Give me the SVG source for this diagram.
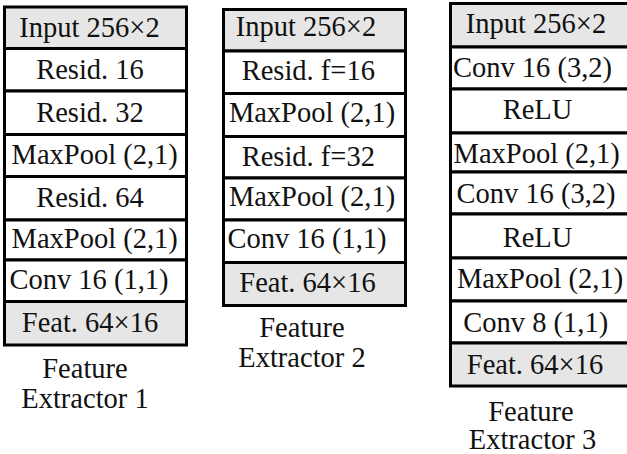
<svg xmlns="http://www.w3.org/2000/svg" width="627" height="454" viewBox="0 0 627 454">
<style>
.c{fill:#fff;stroke:#000;stroke-width:3}
.g{fill:#e6e6e6;stroke:#000;stroke-width:3}
text{font-size:28.5px;fill:#111;text-anchor:middle}
</style>
<rect width="627" height="454" fill="#fff"/>
<g font-family="Liberation Serif, DejaVu Serif, serif">
<g id="extractor1">
<g id="e1-input"><rect class="g" x="4.5" y="7" width="182" height="41.5"/><text x="89.5" y="37">Input 256×2</text></g>
<g id="e1-resid16"><rect class="c" x="4.5" y="48.5" width="182" height="42.5"/><text x="90" y="79">Resid. 16</text></g>
<g id="e1-resid32"><rect class="c" x="4.5" y="91" width="182" height="43.5"/><text x="90" y="121.7">Resid. 32</text></g>
<g id="e1-maxpool1"><rect class="c" x="4.5" y="134.5" width="182" height="42"/><text x="94.7" y="163.5">MaxPool (2,1)</text></g>
<g id="e1-resid64"><rect class="c" x="4.5" y="176.5" width="182" height="43.5"/><text x="90" y="207">Resid. 64</text></g>
<g id="e1-maxpool2"><rect class="c" x="4.5" y="220" width="182" height="40"/><text x="94.7" y="248">MaxPool (2,1)</text></g>
<g id="e1-conv"><rect class="c" x="4.5" y="260" width="182" height="41.5"/><text x="89" y="289">Conv 16 (1,1)</text></g>
<g id="e1-feat"><rect class="g" x="4.5" y="301.5" width="182" height="43.5"/><text x="90" y="332">Feat. 64×16</text></g>
<g id="e1-label"><text x="85" y="378.3">Feature</text><text x="85" y="408.3">Extractor 1</text></g>
</g>
<g id="extractor2">
<g id="e2-input"><rect class="g" x="223.5" y="9.5" width="182" height="41.5"/><text x="306" y="36">Input 256×2</text></g>
<g id="e2-resid16"><rect class="c" x="223.5" y="51" width="182" height="42.5"/><text x="308.3" y="80">Resid. f=16</text></g>
<g id="e2-maxpool1"><rect class="c" x="223.5" y="93.5" width="182" height="43"/><text x="312" y="121.7">MaxPool (2,1)</text></g>
<g id="e2-resid32"><rect class="c" x="223.5" y="136.5" width="182" height="41.5"/><text x="308.3" y="166">Resid. f=32</text></g>
<g id="e2-maxpool2"><rect class="c" x="223.5" y="178" width="182" height="42"/><text x="312" y="206">MaxPool (2,1)</text></g>
<g id="e2-conv"><rect class="c" x="223.5" y="220" width="182" height="42.5"/><text x="307" y="248.3">Conv 16 (1,1)</text></g>
<g id="e2-feat"><rect class="g" x="223.5" y="262.5" width="182" height="43"/><text x="307.5" y="291.7">Feat. 64×16</text></g>
<g id="e2-label"><text x="302" y="336.7">Feature</text><text x="302" y="366.7">Extractor 2</text></g>
</g>
<g id="extractor3">
<g id="e3-input"><rect class="g" x="450.5" y="3.5" width="185" height="43.5"/><text x="536" y="33.3">Input 256×2</text></g>
<g id="e3-conv1"><rect class="c" x="450.5" y="47" width="185" height="42"/><text x="532.5" y="76.7">Conv 16 (3,2)</text></g>
<g id="e3-relu1"><rect class="c" x="450.5" y="89" width="185" height="44"/><text x="537.5" y="119.3">ReLU</text></g>
<g id="e3-maxpool1"><rect class="c" x="450.5" y="133" width="185" height="39"/><text x="536.7" y="163.3">MaxPool (2,1)</text></g>
<g id="e3-conv2"><rect class="c" x="450.5" y="172" width="185" height="42"/><text x="536" y="203.3">Conv 16 (3,2)</text></g>
<g id="e3-relu2"><rect class="c" x="450.5" y="214" width="185" height="44"/><text x="537.5" y="246.7">ReLU</text></g>
<g id="e3-maxpool2"><rect class="c" x="450.5" y="258" width="185" height="43"/><text x="540" y="288.3">MaxPool (2,1)</text></g>
<g id="e3-conv3"><rect class="c" x="450.5" y="301" width="185" height="42"/><text x="535.7" y="331.7">Conv 8 (1,1)</text></g>
<g id="e3-feat"><rect class="g" x="450.5" y="343" width="185" height="43"/><text x="535" y="374">Feat. 64×16</text></g>
<g id="e3-label"><text x="531" y="420.5">Feature</text><text x="532.5" y="448.5">Extractor 3</text></g>
</g>
</g>
<g id="connectors"/>
</svg>
